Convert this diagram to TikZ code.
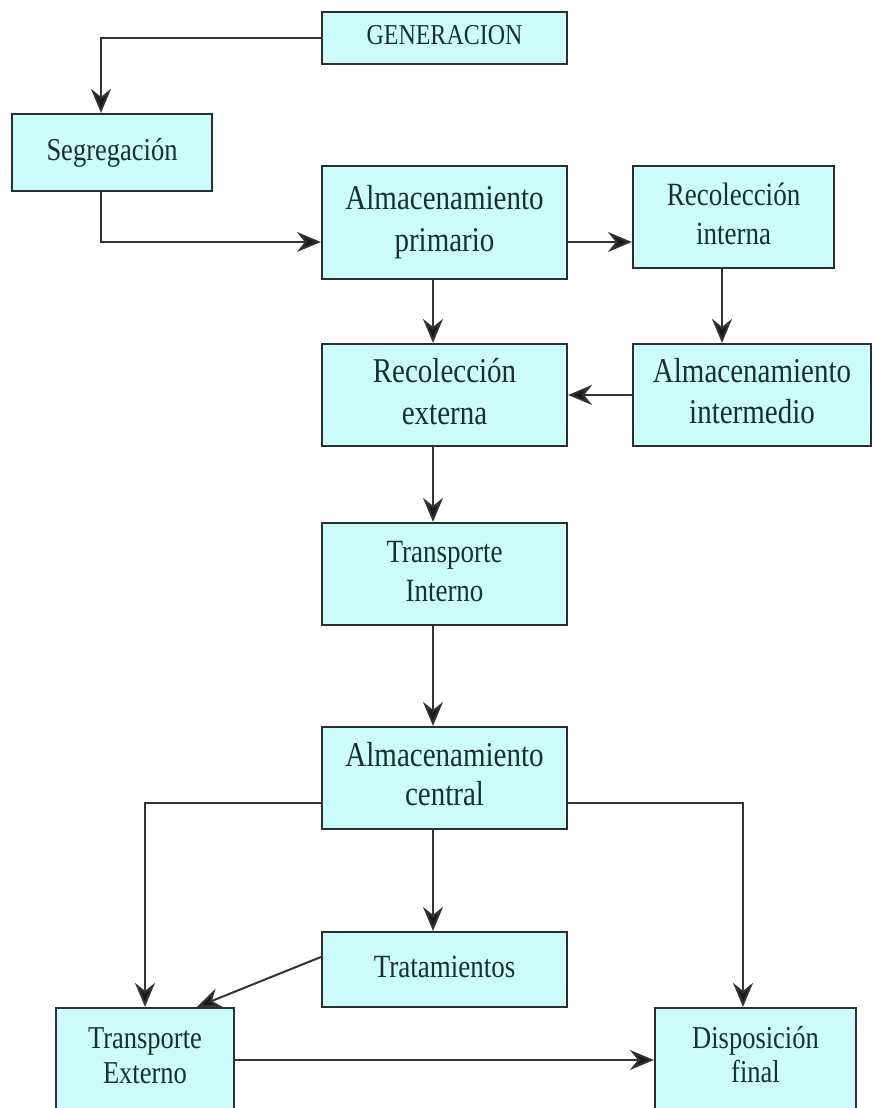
\documentclass[tikz,border=0pt]{standalone}
\usepackage{fontspec}
\setmainfont{Liberation Serif}
\usepackage{graphicx}
\usetikzlibrary{arrows.meta,calc}
\definecolor{boxfill}{HTML}{CCFCFC}
\definecolor{boxline}{HTML}{2A3030}
\definecolor{txt}{HTML}{183030}
\definecolor{conn}{HTML}{333333}
\newcommand{\lbl}[3]{\scalebox{1}[1.2]{\fontsize{#1}{#2}\selectfont\begin{tabular}{@{}c@{}}#3\end{tabular}}}
\tikzset{
  box/.style={draw=boxline, line width=2.2pt, fill=boxfill, text=txt, inner sep=0pt, rectangle},
  arr/.style={draw=conn, line width=2pt, -{Stealth[length=24pt,width=20pt,inset=8pt,fill=black!90]}},
}
\begin{document}
\begin{tikzpicture}[x=1pt,y=-1pt]
\useasboundingbox[fill=white] (0,0) rectangle (873,1108);
\begin{scope}
\clip (0,0) rectangle (873,1108);
\node[box, minimum width=245pt, minimum height=52pt] (gen) at (444.5,38) {\lbl{24}{29}{GENERACION}};
\node[box, minimum width=200pt, minimum height=77pt] (seg) at (112,152.5) {\lbl{26.5}{32}{Segregación}};
\node[box, minimum width=245pt, minimum height=113pt] (prim) at (444.5,222.5) {\lbl{29}{35}{Almacenamiento\\primario}};
\node[box, minimum width=201pt, minimum height=102pt] (rint) at (733.5,217) {\lbl{27}{33}{Recolección\\interna}};
\node[box, minimum width=245pt, minimum height=102pt] (rext) at (444.5,395) {\lbl{29}{35}{Recolección\\externa}};
\node[box, minimum width=238pt, minimum height=102pt] (aint) at (752,395) {\lbl{29}{34}{Almacenamiento\\intermedio}};
\node[box, minimum width=245pt, minimum height=102pt] (tint) at (444.5,574) {\lbl{27}{33}{Transporte\\Interno}};
\node[box, minimum width=245pt, minimum height=102pt] (cen) at (444.5,778) {\lbl{29}{33}{Almacenamiento\\central}};
\node[box, minimum width=245pt, minimum height=75pt] (trat) at (444.5,969.5) {\raisebox{4pt}{\lbl{27}{33}{Tratamientos}}};
\node[box, minimum width=178pt, minimum height=102pt] (text) at (145,1059) {\lbl{26.5}{29}{Transporte\\Externo}};
\node[box, minimum width=201pt, minimum height=102pt] (disp) at (755.5,1059) {\lbl{26.5}{28.5}{Disposición\\final}};
\end{scope}
% connectors
\draw[arr] (gen.west) -| ([xshift=-11pt]seg.north);
\draw[arr] ([xshift=-11pt]seg.south) |- ([yshift=-19.5pt]prim.west);
\draw[arr] ([yshift=-19.5pt]prim.east) -- ([yshift=-19.5pt]prim.east -| rint.west);
\draw[arr] ([xshift=-11.5pt]prim.south) -- ([xshift=-11.5pt]rext.north);
\draw[arr] ([xshift=-11.5pt]rint.south) -- ([xshift=-11.5pt]rint.south |- aint.north);
\draw[arr] (aint.west) -- (rext.east);
\draw[arr] ([xshift=-11.5pt]rext.south) -- ([xshift=-11.5pt]tint.north);
\draw[arr] ([xshift=-11.5pt]tint.south) -- ([xshift=-11.5pt]cen.north);
\draw[arr] ([yshift=-25pt]cen.west) -| (text.north);
\draw[arr] ([yshift=-25pt]cen.east) -| ([xshift=-12.5pt]disp.north);
\draw[arr] ([xshift=-11.5pt]cen.south) -- ([xshift=-11.5pt]trat.north);
\draw[arr] ([yshift=12.5pt]trat.west) -- ([xshift=52pt]text.north);
\draw[arr] ([yshift=-1pt]text.east) -- ([yshift=-1pt]text.east -| disp.west);
\end{tikzpicture}
\end{document}
